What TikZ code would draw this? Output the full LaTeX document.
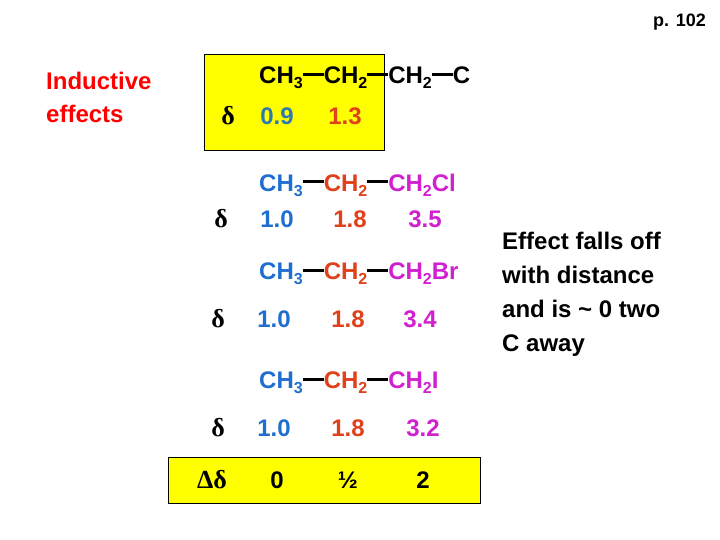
\documentclass[tikz,border=0pt]{standalone}
\usepackage{fontspec}
\setmainfont{Liberation Sans}
\newfontfamily\grk{Liberation Serif}
\definecolor{cb}{HTML}{1F6FD0}
\definecolor{cbA}{HTML}{2E7AB0}
\definecolor{co}{HTML}{E0401A}
\definecolor{cm}{HTML}{D020D0}
\definecolor{cy}{HTML}{FFFF00}
\newcommand{\chsub}[1]{\raisebox{-0.4ex}{\fontsize{16}{16}\selectfont #1}}
\newcommand{\bnd}{\textcolor{black}{\rule[0.33em]{21pt}{2.8pt}}}
\begin{document}
\begin{tikzpicture}[x=1pt,y=-1pt,
  txt/.style={inner sep=0pt,font=\fontsize{24}{24}\selectfont\bfseries},
  dl/.style={inner sep=0pt,font=\fontsize{26}{26}\selectfont\grk\bfseries},
  side/.style={inner sep=0pt,align=left,anchor=west,font=\fontsize{24}{34}\selectfont\bfseries}]
\useasboundingbox (0,0) rectangle (720,540);
\fill[white] (0,0) rectangle (720,540);
\node[draw=black,fill=cy,line width=0.8pt,minimum width=180pt,minimum height=96pt,inner sep=0pt] (box1) at (294,102) {};
\node[draw=black,fill=cy,line width=0.8pt,minimum width=312pt,minimum height=46pt,inner sep=0pt] (box2) at (324,480) {};
\node[inner sep=0pt,anchor=east,font=\fontsize{18}{18}\selectfont\bfseries] (pg) at (706,22) {p. 102};
\node[side,text=red,font=\fontsize{24}{33}\selectfont\bfseries] (ind) at (46,97) {Inductive\\effects};
\node[side] (eff) at (502,294) {Effect falls off\\with distance\\and is \textasciitilde{} 0 two\\C away};
% row 1
\node[txt,anchor=west] (f1) at (259,78) {CH\chsub{3}\bnd CH\chsub{2}\bnd CH\chsub{2}\bnd C};
\node[dl] (d1) at (228,116) {δ};
\node[txt,text=cbA] (a1) at (277,116) {0.9};
\node[txt,text=co] (b1) at (345,116) {1.3};
% row 2
\node[txt,anchor=west] (f2) at (259,185) {\textcolor{cb}{CH\chsub{3}}\bnd\textcolor{co}{CH\chsub{2}}\bnd\textcolor{cm}{CH\chsub{2}Cl}};
\node[dl] (d2) at (221,219) {δ};
\node[txt,text=cb] (a2) at (277,219) {1.0};
\node[txt,text=co] (b2) at (350,219) {1.8};
\node[txt,text=cm] (c2) at (425,219) {3.5};
% row 3
\node[txt,anchor=west] (f3) at (259,274) {\textcolor{cb}{CH\chsub{3}}\bnd\textcolor{co}{CH\chsub{2}}\bnd\textcolor{cm}{CH\chsub{2}Br}};
\node[dl] (d3) at (218,319) {δ};
\node[txt,text=cb] (a3) at (274,319) {1.0};
\node[txt,text=co] (b3) at (348,319) {1.8};
\node[txt,text=cm] (c3) at (420,319) {3.4};
% row 4
\node[txt,anchor=west] (f4) at (259,383) {\textcolor{cb}{CH\chsub{3}}\bnd\textcolor{co}{CH\chsub{2}}\bnd\textcolor{cm}{CH\chsub{2}I}};
\node[dl] (d4) at (218,428) {δ};
\node[txt,text=cb] (a4) at (274,428) {1.0};
\node[txt,text=co] (b4) at (348,428) {1.8};
\node[txt,text=cm] (c4) at (423,428) {3.2};
% delta delta
\node[dl] (dd) at (212,480) {Δδ};
\node[txt] (z0) at (277,480) {0};
\node[txt] (zh) at (348,480) {½};
\node[txt] (z2) at (423,480) {2};
\end{tikzpicture}
\end{document}
